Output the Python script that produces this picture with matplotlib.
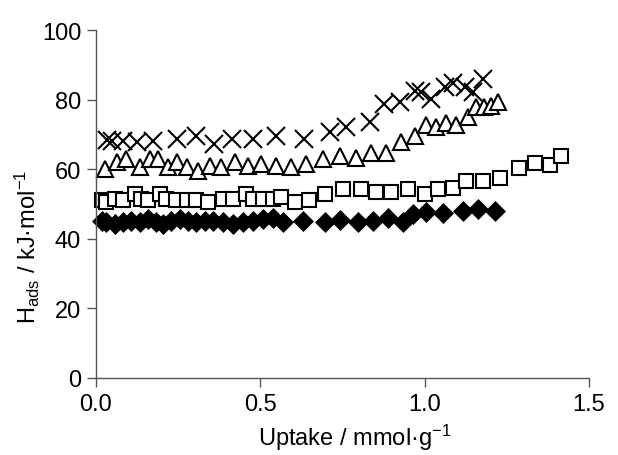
import matplotlib
matplotlib.use('Agg')
import matplotlib.pyplot as plt

plt.rcParams['font.family'] = ['Liberation Sans', 'DejaVu Sans']
plt.rcParams['mathtext.fontset'] = 'custom'
plt.rcParams['mathtext.rm'] = 'Liberation Sans'
plt.rcParams['mathtext.it'] = 'Liberation Sans'

# Série com cruzes
x_cruz = [0.035, 0.05, 0.083, 0.124, 0.174, 0.247, 0.304, 0.359, 0.415, 0.478,
          0.549, 0.632, 0.711, 0.762, 0.833, 0.878, 0.924, 0.970, 0.99, 1.02,
          1.061, 1.086, 1.122, 1.147, 1.177]
y_cruz = [68.5, 68.0, 68.2, 67.7, 68.2, 68.7, 69.4, 67.2, 68.7, 68.7,
          69.4, 68.7, 70.8, 72.0, 73.5, 78.7, 79.2, 82.6, 82.1, 80.2,
          83.5, 84.9, 83.5, 82.1, 85.9]

# Série com triângulos
x_tri = [0.027, 0.063, 0.093, 0.134, 0.164, 0.19, 0.22, 0.247, 0.276, 0.311,
         0.347, 0.382, 0.422, 0.463, 0.504, 0.549, 0.595, 0.640, 0.691, 0.742,
         0.792, 0.838, 0.884, 0.929, 0.970, 1.005, 1.035, 1.066, 1.096, 1.132,
         1.157, 1.182, 1.203, 1.223]
y_tri = [60.0, 62.0, 63.0, 60.5, 63.0, 63.0, 60.5, 62.0, 60.5, 59.5,
         61.0, 60.5, 62.0, 61.0, 61.5, 61.0, 60.5, 61.5, 63.0, 63.7,
         63.2, 64.7, 64.7, 67.7, 69.6, 72.8, 72.0, 73.3, 72.8, 74.9,
         77.8, 77.8, 78.3, 79.2]

# Série com quadrados
x_quad = [0.02, 0.032, 0.058, 0.083, 0.119, 0.139, 0.159, 0.195, 0.215, 0.245,
          0.276, 0.306, 0.341, 0.387, 0.417, 0.458, 0.478, 0.509, 0.539, 0.564,
          0.605, 0.650, 0.696, 0.752, 0.808, 0.853, 0.899, 0.949, 1.0, 1.040,
          1.086, 1.127, 1.177, 1.230, 1.287, 1.337, 1.382, 1.415]
y_quad = [51.0, 50.5, 51.4, 51.0, 52.9, 51.4, 51.0, 52.9, 51.4, 51.0,
          51.0, 51.0, 50.5, 51.4, 51.4, 52.9, 51.4, 51.4, 51.4, 51.9,
          50.5, 51.0, 52.9, 54.3, 54.3, 53.3, 53.3, 54.3, 52.9, 54.3,
          54.5, 56.7, 56.7, 57.4, 60.2, 61.8, 61.2, 63.7]

# Série com losangos
x_los = [0.02, 0.032, 0.058, 0.083, 0.108, 0.134, 0.159, 0.184, 0.205, 0.230,
         0.255, 0.281, 0.306, 0.331, 0.357, 0.387, 0.417, 0.448, 0.478, 0.509,
         0.539, 0.569, 0.630, 0.696, 0.742, 0.797, 0.843, 0.888, 0.934, 0.964,
         1.005, 1.056, 1.116, 1.162, 1.213]
y_los = [45.2, 44.7, 44.3, 44.7, 45.2, 44.7, 45.7, 44.7, 44.3, 45.2,
         45.7, 45.2, 44.7, 45.2, 45.2, 44.7, 44.3, 44.7, 45.2, 45.7,
         46.1, 44.7, 45.2, 44.7, 45.5, 44.7, 45.2, 46.1, 44.7, 47.1,
         47.6, 47.4, 48.1, 48.6, 48.1]

fig = plt.figure(figsize=(6.18, 4.56), dpi=100)
ax = fig.add_axes([0.155, 0.169, 0.798, 0.763])

ax.plot(x_quad, y_quad, 's', ms=10, mfc='white', mec='black', mew=1.5, clip_on=False)
ax.plot(x_los, y_los, 'D', ms=10.5, mfc='black', mec='black', mew=0.5, clip_on=False)
ax.plot(x_tri, y_tri, '^', ms=12, mfc='white', mec='black', mew=1.5, clip_on=False)
ax.plot(x_cruz, y_cruz, 'x', ms=13.5, mec='black', mew=1.5, clip_on=False)

ax.set_xlim(0, 1.5)
ax.set_ylim(0, 100)
ax.set_xticks([0, 0.5, 1.0, 1.5])
ax.set_xticklabels(['0.0', '0.5', '1.0', '1.5'])
ax.set_yticks([0, 20, 40, 60, 80, 100])

for lado in ['top', 'right']:
    ax.spines[lado].set_visible(False)
for lado in ['left', 'bottom']:
    ax.spines[lado].set_color('#555555')
    ax.spines[lado].set_linewidth(1)
ax.tick_params(direction='out', length=6.5, width=1, color='#555555',
               labelsize=17, pad=4)

ax.set_xlabel('Uptake / mmol·g$^{-1}$', fontsize=17)
ax.set_ylabel('H$_{\\mathrm{ads}}$ / kJ·mol$^{-1}$', fontsize=17)
ax.xaxis.set_label_coords(0.525, -0.125)
ax.yaxis.set_label_coords(-0.11, 0.38)

fig.savefig('out.png', dpi=100)
